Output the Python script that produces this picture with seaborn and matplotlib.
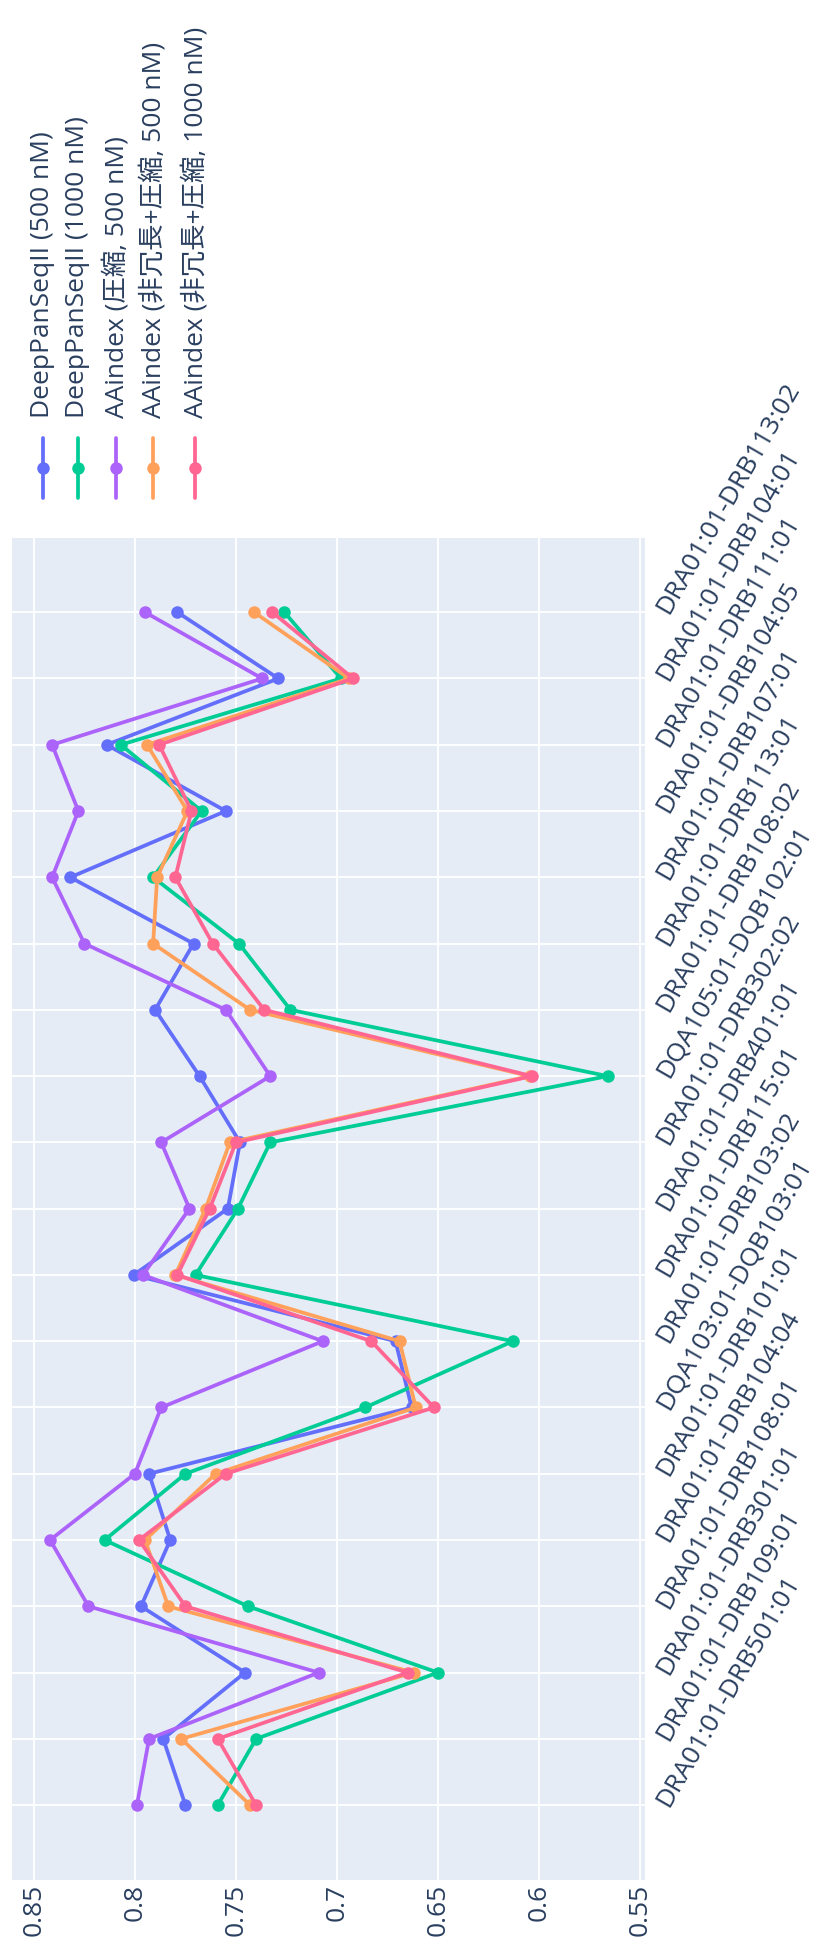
import matplotlib
matplotlib.use("Agg")
import matplotlib.pyplot as plt
import pandas as pd
import seaborn as sns
from matplotlib.lines import Line2D

# HLA class II alleles, in plotting order (bottom to top)
alleles = [
    "DRA01:01-DRB501:01", "DRA01:01-DRB109:01", "DRA01:01-DRB301:01",
    "DRA01:01-DRB108:01", "DRA01:01-DRB104:04", "DRA01:01-DRB101:01",
    "DQA103:01-DQB103:01", "DRA01:01-DRB103:02", "DRA01:01-DRB115:01",
    "DRA01:01-DRB401:01", "DRA01:01-DRB302:02", "DQA105:01-DQB102:01",
    "DRA01:01-DRB108:02", "DRA01:01-DRB113:01", "DRA01:01-DRB107:01",
    "DRA01:01-DRB104:05", "DRA01:01-DRB111:01", "DRA01:01-DRB104:01",
    "DRA01:01-DRB113:02",
]

deeppan_500 = [0.775, 0.786, 0.7455, 0.797, 0.7825, 0.793, 0.663, 0.671, 0.8006, 0.754,
               0.748, 0.768, 0.790, 0.771, 0.832, 0.755, 0.814, 0.729, 0.779]
deeppan_1000 = [0.759, 0.740, 0.650, 0.744, 0.815, 0.775, 0.686, 0.613, 0.770, 0.749,
                0.733, 0.566, 0.723, 0.7485, 0.791, 0.767, 0.807, 0.698, 0.726]
aaindex_comp_500 = [0.799, 0.793, 0.709, 0.823, 0.842, 0.800, 0.787, 0.707, 0.796, 0.773,
                    0.787, 0.733, 0.755, 0.825, 0.841, 0.828, 0.841, 0.737, 0.795]
aaindex_nr_500 = [0.743, 0.777, 0.662, 0.7835, 0.795, 0.760, 0.661, 0.669, 0.780, 0.765,
                  0.753, 0.6045, 0.743, 0.791, 0.789, 0.774, 0.794, 0.694, 0.741]
aaindex_nr_1000 = [0.740, 0.759, 0.665, 0.775, 0.798, 0.755, 0.652, 0.683, 0.779, 0.763,
                   0.750, 0.6035, 0.736, 0.7615, 0.780, 0.772, 0.788, 0.692, 0.732]

series_names = [
    "DeepPanSeqII (500 nM)",
    "DeepPanSeqII (1000 nM)",
    "AAindex (圧縮, 500 nM)",
    "AAindex (非冗長+圧縮, 500 nM)",
    "AAindex (非冗長+圧縮, 1000 nM)",
]
series_values = [deeppan_500, deeppan_1000, aaindex_comp_500, aaindex_nr_500, aaindex_nr_1000]
palette = ["#636EFA", "#00CC96", "#AB63FA", "#FFA15A", "#FF6692"]

value_ticks = [0.85, 0.8, 0.75, 0.7, 0.65, 0.6, 0.55]
value_tick_labels = ["0.85", "0.8", "0.75", "0.7", "0.65", "0.6", "0.55"]

sns.set_theme(style="darkgrid")
plt.rcParams["font.family"] = ["Open Sans", "Noto Sans CJK JP"]

TEXT = "#2a3f5f"
FS = 19
LW = 2.7
MS = 9
W, H = 819, 1941

fig = plt.figure(figsize=(W / 100, H / 100), dpi=100)
fig.patch.set_facecolor("white")
ax = fig.add_axes([11.5 / W, 1 - 1880 / H, (645 - 11.5) / W, (1880 - 538) / H])
ax.set_facecolor("#E5ECF6")

rows = []
for name, vals in zip(series_names, series_values):
    for i, v in enumerate(vals):
        rows.append((name, i, v))
df = pd.DataFrame(rows, columns=["series", "pos", "value"])

sns.lineplot(
    data=df, x="value", y="pos", hue="series", hue_order=series_names,
    palette=palette, orient="y", estimator=None, marker="o", markersize=MS,
    markeredgewidth=0, linewidth=LW, legend=False, ax=ax,
)

# value axis runs right-to-left, categories bottom-to-top
ax.set_xlim(0.8611, 0.5475)
ax.set_ylim(-1.13, len(alleles) - 1 + 1.12)
ax.grid(True, color="white", linewidth=1.3)
ax.set_axisbelow(True)
for s in ax.spines.values():
    s.set_visible(False)
ax.set_xlabel("")
ax.set_ylabel("")

ax.set_xticks(value_ticks)
ax.set_xticklabels(value_tick_labels, rotation=90, ha="center", va="top")
ax.tick_params(axis="x", length=0, pad=3, labelsize=FS, labelcolor=TEXT)

ax.yaxis.tick_right()
ax.set_yticks(range(len(alleles)))
ax.set_yticklabels(alleles, rotation=60, rotation_mode="anchor", ha="left", va="center")
ax.tick_params(axis="y", length=0, pad=13, labelsize=FS, labelcolor=TEXT)

# legend drawn as a rotated column of entries above the plot
legend_x = [43, 78, 116, 153, 195]
for xpx, name, color in zip(legend_x, series_names, palette):
    xc = xpx / W
    fig.add_artist(Line2D([xc, xc], [1 - 438 / H, 1 - 498 / H], color=color, lw=LW,
                          transform=fig.transFigure))
    fig.add_artist(Line2D([xc], [1 - 468 / H], marker="o", ms=MS, mew=0, color=color,
                          transform=fig.transFigure))
    fig.text(xc, 1 - 418 / H, name, rotation=90, ha="center", va="bottom",
             fontsize=FS, color=TEXT)

fig.savefig("out.png", dpi=100, facecolor="white")
